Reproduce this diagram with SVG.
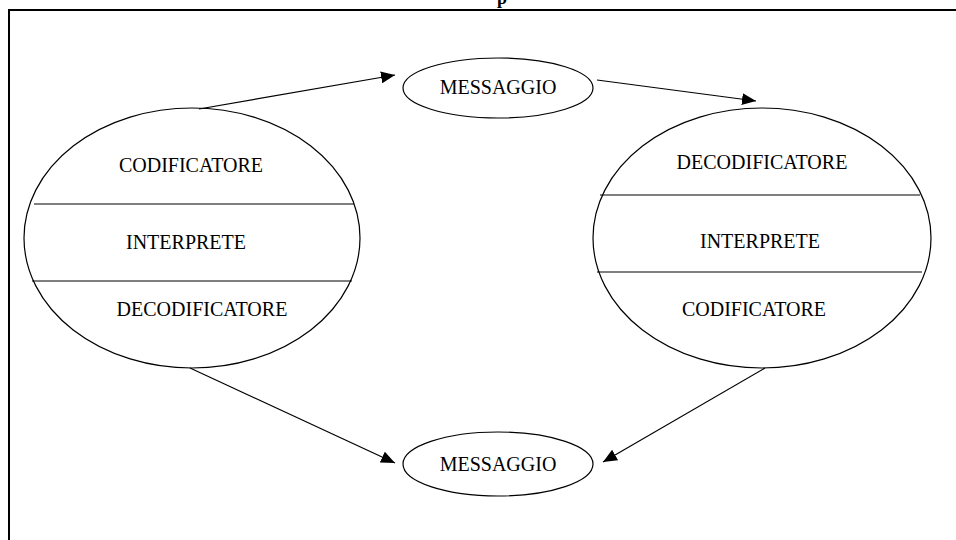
<svg xmlns="http://www.w3.org/2000/svg" width="956" height="540" viewBox="0 0 956 540">
<style>
.shape{fill:none;stroke:#000;stroke-width:1.2}
.div{stroke:#000;stroke-width:1.2}
.lbl{font-family:"Liberation Serif","Times New Roman",serif;font-size:20px;fill:#000;text-anchor:middle}
.conn{stroke:#000;stroke-width:1.2;fill:none}
</style>
<defs>
<marker id="ah" markerUnits="userSpaceOnUse" markerWidth="16" markerHeight="12" refX="14" refY="6" orient="auto">
<path d="M0,0 L14,6 L0,12 Z" fill="#000"/>
</marker>
</defs>
<rect width="956" height="540" fill="#fff"/>
<text x="502" y="4" font-family="Liberation Serif, serif" font-size="18" font-weight="bold" text-anchor="middle">p</text>
<path d="M9,540 L9,10 L956,10" fill="none" stroke="#000" stroke-width="2"/>
<g id="left-node">
<ellipse class="shape" cx="192" cy="238" rx="168" ry="130"/>
<line class="div" x1="34" y1="204" x2="354" y2="204"/>
<line class="div" x1="32" y1="281" x2="352" y2="281"/>
<text class="lbl" x="191" y="172">CODIFICATORE</text>
<text class="lbl" x="186" y="249">INTERPRETE</text>
<text class="lbl" x="202" y="316">DECODIFICATORE</text>
</g>
<g id="right-node">
<ellipse class="shape" cx="762" cy="238" rx="169" ry="130"/>
<line class="div" x1="600" y1="195" x2="920" y2="195"/>
<line class="div" x1="597" y1="272" x2="922" y2="272"/>
<text class="lbl" x="762" y="169">DECODIFICATORE</text>
<text class="lbl" x="760" y="248">INTERPRETE</text>
<text class="lbl" x="754" y="316">CODIFICATORE</text>
</g>
<g id="msg-top">
<ellipse class="shape" cx="498" cy="88" rx="95" ry="30"/>
<text class="lbl" x="498" y="94">MESSAGGIO</text>
</g>
<g id="msg-bottom">
<ellipse class="shape" cx="498" cy="464" rx="95" ry="32"/>
<text class="lbl" x="498" y="471">MESSAGGIO</text>
</g>
<g id="connectors">
<line class="conn" x1="199" y1="109" x2="395" y2="75" marker-end="url(#ah)"/>
<line class="conn" x1="597" y1="80" x2="756" y2="101" marker-end="url(#ah)"/>
<line class="conn" x1="190" y1="368" x2="395" y2="463" marker-end="url(#ah)"/>
<line class="conn" x1="765" y1="368" x2="603" y2="462" marker-end="url(#ah)"/>
</g>
</svg>
